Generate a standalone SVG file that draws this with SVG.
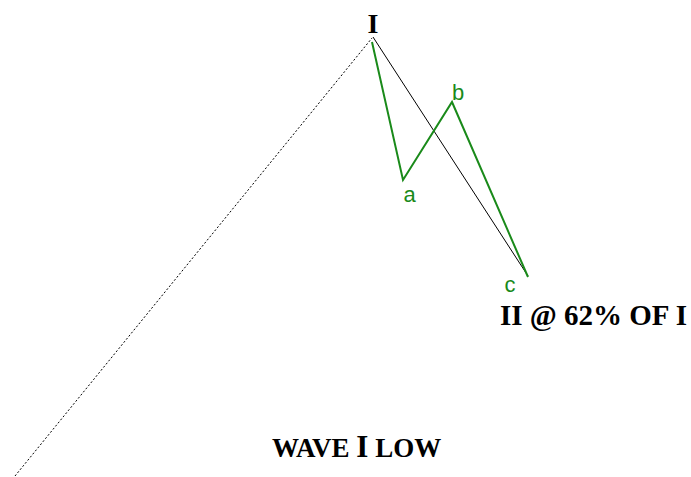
<svg xmlns="http://www.w3.org/2000/svg" width="691" height="477" viewBox="0 0 691 477">
<style>
.lbl{font-family:"Liberation Serif","Times New Roman",serif;font-weight:bold;fill:#000}
.g{font-family:"Liberation Sans",Arial,sans-serif;fill:#1a8a1a;font-size:22px}
</style>
<rect width="691" height="477" fill="#fff"/>
<g id="connectors" fill="none">
<line x1="15" y1="476" x2="372" y2="38" stroke="#000" stroke-width="1" stroke-dasharray="2,2"/>
<line x1="373" y1="37" x2="528" y2="276" stroke="#000" stroke-width="1"/>
<polyline points="372,42 403,180 452,102 528,277" stroke="#1a8a1a" stroke-width="2" stroke-linejoin="miter"/>
</g>
<g id="label-I"><text class="lbl" x="373" y="33" font-size="28" text-anchor="middle">I</text></g>
<g id="label-a"><text class="g" x="409.5" y="202" text-anchor="middle">a</text></g>
<g id="label-b"><text class="g" x="458" y="100" text-anchor="middle">b</text></g>
<g id="label-c"><text class="g" x="510" y="292" text-anchor="middle">c</text></g>
<g id="label-II"><text class="lbl" x="500" y="325" font-size="29">II @ 62% OF I</text></g>
<g id="label-low"><text class="lbl" x="272" y="457" font-size="27">WAVE <tspan font-size="31">I</tspan> LOW</text></g>
</svg>
